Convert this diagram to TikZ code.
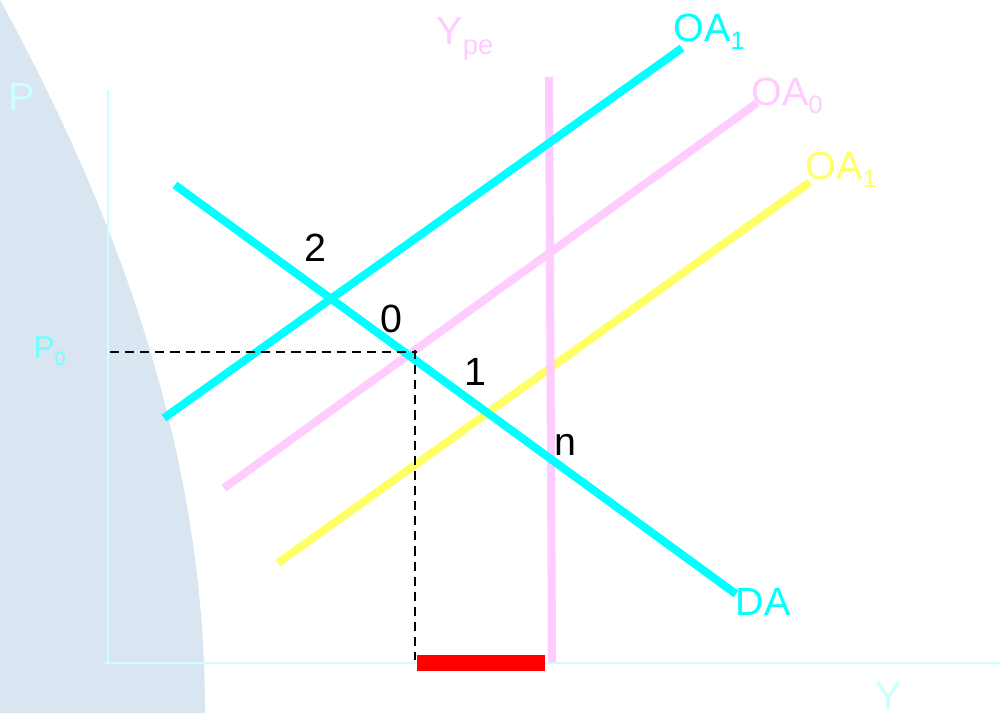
\documentclass[tikz,border=0pt]{standalone}
\usepackage{fontspec}
\setmainfont{Liberation Sans}
\definecolor{aqua}{HTML}{00FFFF}
\definecolor{rose}{HTML}{FFCCFF}
\definecolor{lemon}{HTML}{FFFF66}
\definecolor{paleaxis}{HTML}{CCFFFF}
\definecolor{midaqua}{HTML}{70FFFF}
\definecolor{blob}{HTML}{D9E5F0}
\newcommand{\lowidx}[1]{\raisebox{-0.2em}{\fontsize{7.2}{8}\selectfont #1}}
\begin{document}
\begin{tikzpicture}[
    curve/.style={line width=2.3pt},
    lbl/.style={inner sep=0pt, font=\fontsize{11.2}{13}\selectfont}
  ]
    \useasboundingbox (0,0) rectangle (10,7.13);
    \fill [blob] (0,7.13) .. controls (1.55,4.30) and (2.05,2.00) .. (2.05,0) -- (0,0) -- cycle;
    % axes
    \draw [paleaxis, line width=0.6pt] (1.08,6.23) -- (1.08,0.50);
    \draw [paleaxis, line width=0.6pt] (1.05,0.50) -- (10,0.50);
    \node [lbl, paleaxis, anchor=base] (p) at (0.22,6.02) {P};
    \node [lbl, paleaxis, anchor=base] (y) at (8.89,0.04) {Y};
    \node [lbl, midaqua, anchor=base west, font=\fontsize{9}{10}\selectfont] (p0) at (0.33,3.55) {P\raisebox{-0.25em}{\fontsize{5.6}{6}\selectfont 0}};
    % curves
    \draw [curve, rose] (2.24,2.25) -- (7.57,6.10);
    \draw [curve, lemon] (2.78,1.50) -- (8.10,5.31);
    \draw [curve, rose] (5.49,6.36) -- (5.52,0.51);
    \draw [curve, aqua] (1.64,2.95) -- (6.82,6.65);
    \draw [curve, aqua] (1.75,5.28) -- (7.36,1.19);
    \node [lbl, aqua, anchor=base west] (oa1) at (6.73,6.71) {OA\lowidx{1}};
    \node [lbl, rose, anchor=base west] (oa0) at (7.51,6.07) {OA\lowidx{0}};
    \node [lbl, lemon, anchor=base west] (oa1b) at (8.05,5.33) {OA\lowidx{1}};
    \node [lbl, rose, anchor=base west] (ype) at (4.36,6.68) {Y\raisebox{-0.25em}{\fontsize{7.8}{9}\selectfont pe}};
    \node [lbl, aqua, anchor=base west] (da) at (7.35,0.98) {DA};
    % points
    \node [lbl, anchor=base] (pt2) at (3.15,4.51) {2};
    \node [lbl, anchor=base] (pt0) at (3.91,3.80) {0};
    \node [lbl, anchor=base] (pt1) at (4.75,3.28) {1};
    \node [lbl, anchor=base] (ptn) at (5.65,2.58) {n};
    \draw [dash pattern=on 2.6pt off 1.7pt, line width=0.7pt] (1.10,3.61) -- (4.17,3.61);
    \draw [dash pattern=on 2.6pt off 1.7pt, line width=0.7pt] (4.15,3.63) -- (4.15,0.53);
    \fill [red] (4.17,0.42) rectangle (5.45,0.58);
\end{tikzpicture}
\end{document}
